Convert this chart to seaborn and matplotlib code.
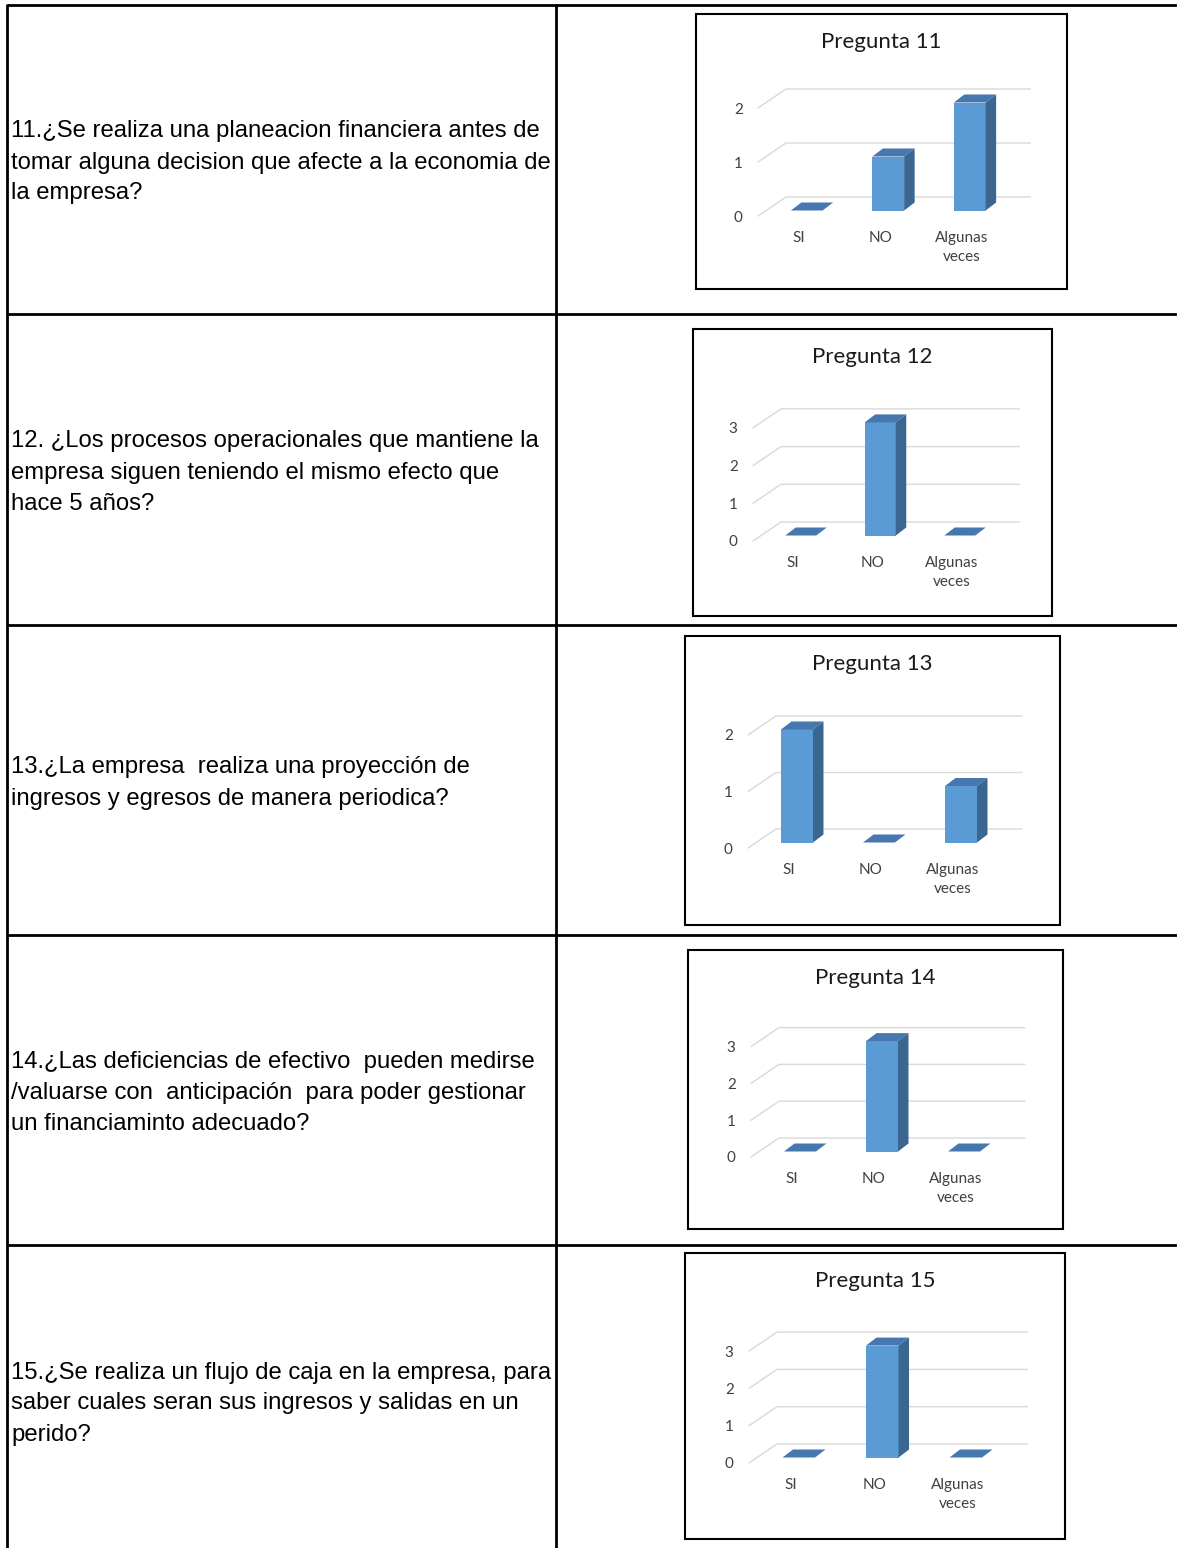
import matplotlib
matplotlib.use("Agg")
import numpy as np
import matplotlib.pyplot as plt
import seaborn as sns
from matplotlib.patches import Polygon, Rectangle
from matplotlib.transforms import ScaledTranslation

sns.set_style("white")
plt.rcParams["font.family"] = ["Liberation Sans", "DejaVu Sans"]

W, H, DPI = 1177, 1548, 100

# --- data -------------------------------------------------------------
categorias = ["SI", "NO", "Algunas\nveces"]
titulos = ["Pregunta 11", "Pregunta 12", "Pregunta 13", "Pregunta 14", "Pregunta 15"]
preguntas = [
    "11.¿Se realiza una planeacion financiera antes de\n"
    "tomar alguna decision que afecte a la economia de\n"
    "la empresa?",
    "12. ¿Los procesos operacionales que mantiene la\n"
    "empresa siguen teniendo el mismo efecto que\n"
    "hace 5 años?",
    "13.¿La empresa  realiza una proyección de\n"
    "ingresos y egresos de manera periodica?",
    "14.¿Las deficiencias de efectivo  pueden medirse\n"
    "/valuarse con  anticipación  para poder gestionar\n"
    "un financiaminto adecuado?",
    "15.¿Se realiza un flujo de caja en la empresa, para\n"
    "saber cuales seran sus ingresos y salidas en un\n"
    "perido?",
]
resp_11 = [0, 1, 2]
resp_12 = [0, 3, 0]
resp_13 = [2, 0, 1]
resp_14 = [0, 3, 0]
resp_15 = [0, 3, 0]
respuestas = [resp_11, resp_12, resp_13, resp_14, resp_15]

# --- layout (pixels) --------------------------------------------------
COL_X = [7, 556]
ROW_Y = [5, 314, 625, 935, 1245, 1556]
CAJAS = [(696, 14, 1067, 289), (693, 329, 1052, 616), (685, 636, 1060, 925),
         (688, 950, 1063, 1229), (685, 1253, 1065, 1539)]
# front-left floor corner x, y, category spacing, px per unit
PISOS = [(758, 216, 81.5, 54.0), (753, 541, 79.5, 37.7), (748, 848, 82.0, 56.5),
         (751, 1157, 82.0, 36.8), (749, 1463, 83.5, 37.3)]
FONDO = (28, 19)      # depth of the floor/back wall
BAR_OFF = (8, 5.5)    # bar front relative to floor front
BAR_DEP = (10.5, 8)   # bar depth
ANCHO = 0.39

FRENTE = "#5B9BD5"
LADO = "#3B6690"
TECHO = "#4677AE"
GRID = "#D9D9D9"
CHART_FONT = ["Lato", "DejaVu Sans"]

fig = plt.figure(figsize=(W / DPI, H / DPI), dpi=DPI)
fig.patch.set_facecolor("white")

# background axes in pixel units for the table
bg = fig.add_axes([0, 0, 1, 1])
bg.set_xlim(0, W)
bg.set_ylim(H, 0)
bg.axis("off")

for x in COL_X:
    bg.plot([x, x], [ROW_Y[0] - 1, H + 10], color="black", lw=2, solid_capstyle="butt")
for y in ROW_Y[:-1]:
    bg.plot([COL_X[0], W], [y, y], color="black", lw=2, solid_capstyle="butt")

for i, texto in enumerate(preguntas):
    yc = (ROW_Y[i] + ROW_Y[i + 1]) / 2 + 3
    lineas = texto.split("\n")
    for j, linea in enumerate(lineas):
        bg.text(11, yc + (j - (len(lineas) - 1) / 2) * 31, linea,
                ha="left", va="center", fontsize=17.2, color="black")

for caja, titulo in zip(CAJAS, titulos):
    x0, y0, x1, y1 = caja
    bg.add_patch(Rectangle((x0, y0), x1 - x0, y1 - y0, fill=False,
                           edgecolor="black", lw=1.5))
    bg.text((x0 + x1) / 2, y0 + 28, titulo, ha="center", va="center",
            fontsize=16, color="#1a1a1a", family=CHART_FONT)


def a_datos(ax, pts):
    return ax.transData.inverted().transform(np.asarray(pts))


for vals, piso in zip(respuestas, PISOS):
    x0, y0, s, u = piso
    n = max(vals)
    ax = fig.add_axes([x0 / W, 1 - y0 / H, 3 * s / W, n * u / H])
    sns.barplot(x=categorias, y=vals, ax=ax, color=FRENTE, width=ANCHO,
                saturation=1, errorbar=None, linewidth=0)
    ax.set_xlim(-0.5, 2.5)
    ax.set_ylim(0, n)
    ax.set_yticks(range(n + 1))
    ax.set_facecolor("none")
    for sp in ax.spines.values():
        sp.set_visible(False)
    ax.set_xlabel("")
    ax.set_ylabel("")
    ax.tick_params(axis="both", length=0, labelsize=11, labelcolor="#404040")
    ax.tick_params(axis="y", pad=11)
    ax.tick_params(axis="x", pad=11)
    for lab in ax.get_xticklabels() + ax.get_yticklabels():
        lab.set_family(CHART_FONT)
    for lab in ax.get_xticklabels():
        lab.set_linespacing(1.45)

    # floor diagonals and back wall gridlines
    for v in range(n + 1):
        fl = ax.transData.transform((-0.5, v))
        fr = ax.transData.transform((2.5, v))
        bl = fl + np.array(FONDO)
        br = fr + np.array(FONDO)
        pts = a_datos(ax, [fl, bl, br])
        ax.plot(pts[:, 0], pts[:, 1], color=GRID, lw=1, clip_on=False, zorder=0)

    # 3d faces for each bar
    off = ScaledTranslation(BAR_OFF[0] / DPI, BAR_OFF[1] / DPI, fig.dpi_scale_trans)
    d = np.array(BAR_DEP)
    for p in list(ax.patches):
        p.set_transform(ax.transData + off)
        p.set_clip_on(False)
        p.set_zorder(2)
        bx, bw, bh = p.get_x(), p.get_width(), p.get_height()
        tl = ax.transData.transform((bx, bh)) + np.array(BAR_OFF)
        tr = ax.transData.transform((bx + bw, bh)) + np.array(BAR_OFF)
        brr = ax.transData.transform((bx + bw, 0)) + np.array(BAR_OFF)
        techo = a_datos(ax, [tl, tr, tr + d, tl + d])
        ax.add_patch(Polygon(techo, closed=True, facecolor=TECHO, edgecolor="none",
                             clip_on=False, zorder=3))
        if bh > 0:
            lado = a_datos(ax, [brr, tr, tr + d, brr + d])
            ax.add_patch(Polygon(lado, closed=True, facecolor=LADO, edgecolor="none",
                                 clip_on=False, zorder=3))

fig.savefig("out.png", dpi=DPI)
